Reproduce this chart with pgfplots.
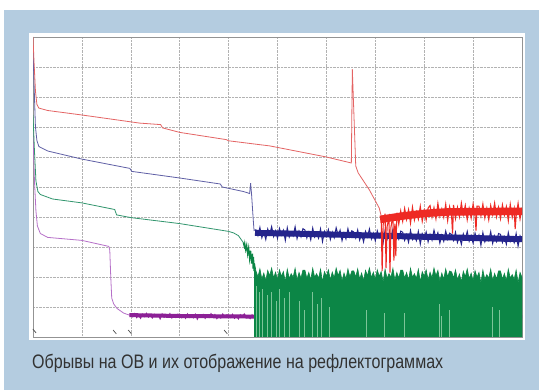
\documentclass[border=0pt]{standalone}
\usepackage{pgfplots}
\pgfplotsset{compat=1.18}
\usepackage{graphicx}
\usepackage{fontspec}
\newfontfamily\capfont{Liberation Sans}
\definecolor{bgblue}{RGB}{180,204,224}
\definecolor{capgray}{RGB}{50,50,50}
\definecolor{rednoise}{RGB}{238,42,36}
\definecolor{redthin}{RGB}{228,100,100}
\definecolor{bluenoise}{RGB}{36,36,140}
\definecolor{bluethin}{RGB}{95,95,165}
\definecolor{greennoise}{RGB}{12,134,70}
\definecolor{greenthin}{RGB}{50,150,110}
\definecolor{gapgreen}{RGB}{125,196,152}
\definecolor{purplenoise}{RGB}{140,32,150}
\definecolor{purplethin}{RGB}{182,112,200}
\begin{document}
\begin{tikzpicture}[x=1pt,y=1pt]
\useasboundingbox (0,0) rectangle (539,390);
\fill[white] (0,0) rectangle (539,390);
\fill[bgblue] (4,0) rectangle (539,380);
\fill[white] (29,50) rectangle (525,357);
\node[anchor=base west, inner sep=0pt, text=capgray] at (32,21)
  {\resizebox{411pt}{\height}{\capfont\fontsize{19.5pt}{22pt}\selectfont Обрывы на ОВ и их отображение на рефлектограммах}};
\begin{axis}[
  at={(33pt,53pt)}, anchor=south west,
  scale only axis, width=489pt, height=300pt,
  xmin=0, xmax=10, ymin=0, ymax=10,
  xtick={0,1,...,10}, ytick={0,1,...,10},
  xticklabels={}, yticklabels={},
  major tick length=0pt,
  grid=major,
  major grid style={densely dotted, draw=gray!60, line width=0.5pt},
  axis line style={draw=gray!85, line width=0.9pt},
]
% ---------------- purple trace
\addplot[purplethin, line width=0.8pt, mark=none] coordinates {
(0,6.8) (0.03,5.2) (0.06,4.2) (0.09,3.7) (0.15,3.45) (0.3,3.32) (1.0,3.22) (1.55,3.02) (1.57,2.9) (1.59,2.0) (1.61,1.3) (1.65,1.1) (1.72,0.95) (1.85,0.8) (1.95,0.74) (2.0,0.72)};
\addplot[purplenoise, line width=4pt, mark=none] coordinates {
(1.97,0.73) (3.0,0.70) (4.6,0.68) (10,0.66)};
\addplot[purplenoise, line width=0.9pt, mark=none] coordinates {
(2.00,0.75) (2.04,0.67) (2.08,0.78) (2.12,0.64) (2.16,0.72) (2.20,0.62) (2.24,0.76) (2.28,0.68) (2.32,0.79) (2.36,0.66)
(2.40,0.73) (2.44,0.63) (2.48,0.76) (2.52,0.68) (2.56,0.74) (2.60,0.60) (2.64,0.77) (2.68,0.65) (2.72,0.71) (2.76,0.66)
(2.80,0.78) (2.84,0.63) (2.88,0.73) (2.92,0.65) (2.96,0.76)
(3.00,0.75) (3.04,0.64) (3.08,0.72) (3.12,0.62) (3.16,0.77) (3.20,0.65) (3.24,0.70) (3.28,0.64) (3.32,0.76) (3.36,0.59)
(3.40,0.73) (3.44,0.67) (3.48,0.75) (3.52,0.62) (3.56,0.72) (3.60,0.65) (3.64,0.78) (3.68,0.67) (3.72,0.75) (3.76,0.61)
(3.80,0.71) (3.84,0.63) (3.88,0.77) (3.92,0.66) (3.96,0.74)
(4.00,0.73) (4.04,0.65) (4.08,0.76) (4.12,0.62) (4.16,0.70) (4.20,0.60) (4.24,0.74) (4.28,0.66) (4.32,0.77) (4.36,0.64)
(4.40,0.71) (4.44,0.61) (4.48,0.74) (4.52,0.66) (4.56,0.72) (4.60,0.58)};
% ---------------- green trace
\addplot[greenthin, line width=0.8pt, mark=none] coordinates {
(0,7.4) (0.03,6.2) (0.06,5.2) (0.1,4.85) (0.15,4.75) (0.4,4.6) (1.0,4.47) (1.67,4.25) (1.71,4.07) (2.0,3.98) (3.0,3.78) (4.0,3.52) (4.1,3.47) (4.2,3.38) (4.3,3.15)};
\addplot[greennoise, line width=1.2pt, mark=none] coordinates {
(4.30,3.15) (4.32,3.02) (4.33,3.12) (4.35,2.90) (4.37,3.06) (4.39,2.76) (4.41,2.97) (4.43,2.60) (4.45,2.88) (4.47,2.45) (4.49,2.78) (4.50,2.28) (4.51,2.66) (4.52,2.20) (4.53,2.45)};
\addplot[greennoise, fill=greennoise, line width=0.6pt, mark=none] coordinates {
(4.53,2.45)
(4.56,2.20) (4.60,2.00) (4.64,2.27) (4.68,1.93) (4.72,2.13) (4.76,1.87) (4.80,2.22) (4.84,2.04) (4.88,2.30) (4.92,1.97)
(4.96,2.16) (5.00,1.91) (5.04,2.24) (5.08,2.02) (5.12,2.18) (5.16,1.84) (5.20,2.26) (5.24,1.95) (5.28,2.11) (5.32,1.99)
(5.36,2.29) (5.40,1.90) (5.44,2.15) (5.48,1.96) (5.52,2.23)
(5.56,2.23) (5.60,1.96) (5.64,2.15) (5.68,1.90) (5.72,2.29) (5.76,1.99) (5.80,2.11) (5.84,1.95) (5.88,2.26) (5.92,1.84)
(5.96,2.18) (6.00,2.02) (6.04,2.24) (6.08,1.91) (6.12,2.16) (6.16,1.97) (6.20,2.30) (6.24,2.04) (6.28,2.22) (6.32,1.87)
(6.36,2.13) (6.40,1.93) (6.44,2.27) (6.48,2.00) (6.52,2.20)
(6.56,2.20) (6.60,2.00) (6.64,2.27) (6.68,1.93) (6.72,2.13) (6.76,1.87) (6.80,2.22) (6.84,2.04) (6.88,2.30) (6.92,1.97)
(6.96,2.16) (7.00,1.91) (7.04,2.24) (7.08,2.02) (7.12,2.18) (7.16,1.84) (7.20,2.26) (7.24,1.95) (7.28,2.11) (7.32,1.99)
(7.36,2.29) (7.40,1.90) (7.44,2.15) (7.48,1.96) (7.52,2.23)
(7.56,2.23) (7.60,1.96) (7.64,2.15) (7.68,1.90) (7.72,2.29) (7.76,1.99) (7.80,2.11) (7.84,1.95) (7.88,2.26) (7.92,1.84)
(7.96,2.18) (8.00,2.02) (8.04,2.24) (8.08,1.91) (8.12,2.16) (8.16,1.97) (8.20,2.30) (8.24,2.04) (8.28,2.22) (8.32,1.87)
(8.36,2.13) (8.40,1.93) (8.44,2.27) (8.48,2.00) (8.52,2.20)
(8.56,2.17) (8.60,1.97) (8.64,2.24) (8.68,1.90) (8.72,2.10) (8.76,1.84) (8.80,2.19) (8.84,2.01) (8.88,2.27) (8.92,1.94)
(8.96,2.13) (9.00,1.88) (9.04,2.21) (9.08,1.99) (9.12,2.15) (9.16,1.81) (9.20,2.23) (9.24,1.92) (9.28,2.08) (9.32,1.96)
(9.36,2.26) (9.40,1.87) (9.44,2.12) (9.48,1.93) (9.52,2.20)
(9.56,2.20) (9.60,1.93) (9.64,2.12) (9.68,1.87) (9.72,2.26) (9.76,1.96) (9.80,2.08) (9.84,1.92) (9.88,2.23) (9.92,1.81)
(9.96,2.15) (10.00,1.99)} \closedcycle;
\addplot[ycomb, gapgreen, line width=0.8pt, mark=none] coordinates {
(4.57,1.7) (4.63,1.5) (4.69,1.6) (4.80,1.4) (4.88,1.5) (4.98,1.2) (5.04,1.6) (5.14,1.3) (5.24,1.5) (5.45,1.2) (5.55,0.9) (5.71,1.5)
(5.82,1.1) (5.90,1.3) (6.06,1.0) (6.82,0.9) (7.18,0.8) (7.59,0.8) (8.31,1.1) (8.35,0.7) (8.51,0.9) (9.39,1.0) (9.53,0.9)};
% ---------------- blue trace
\addplot[bluethin, line width=0.8pt, mark=none] coordinates {
(0,9.6) (0.02,8.5) (0.05,7.0) (0.08,6.55) (0.12,6.35) (0.3,6.2) (1,5.93) (1.98,5.62) (2.02,5.52) (3.0,5.3) (3.83,5.1) (3.87,5.0) (4.3,4.85) (4.4,4.8) (4.43,4.78) (4.45,5.13) (4.47,4.75) (4.5,4.0) (4.52,3.55) (4.56,3.58)};
\addplot[bluenoise, line width=6pt, mark=none] coordinates {
(4.54,3.47) (5.5,3.44) (6.5,3.40) (7.5,3.36) (8.5,3.32) (9.5,3.28) (10,3.26)};
\addplot[bluenoise, line width=1.0pt, mark=none] coordinates {
(4.56,3.58) (4.60,3.38) (4.64,3.65) (4.68,3.31) (4.72,3.51) (4.76,3.25) (4.80,3.60) (4.84,3.42) (4.88,3.68) (4.92,3.35)
(4.96,3.54) (5.00,3.29) (5.04,3.62) (5.08,3.40) (5.12,3.56) (5.16,3.22) (5.20,3.64) (5.24,3.33) (5.28,3.49) (5.32,3.37)
(5.36,3.67) (5.40,3.28) (5.44,3.53) (5.48,3.34) (5.52,3.61)
(5.56,3.57) (5.60,3.30) (5.64,3.49) (5.68,3.24) (5.72,3.63) (5.76,3.33) (5.80,3.45) (5.84,3.29) (5.88,3.60) (5.92,3.18)
(5.96,3.52) (6.00,3.36) (6.04,3.58) (6.08,3.25) (6.12,3.50) (6.16,3.31) (6.20,3.64) (6.24,3.38) (6.28,3.56) (6.32,3.21)
(6.36,3.47) (6.40,3.27) (6.44,3.61) (6.48,3.34) (6.52,3.54)
(6.56,3.50) (6.60,3.30) (6.64,3.57) (6.68,3.23) (6.72,3.43) (6.76,3.17) (6.80,3.52) (6.84,3.34) (6.88,3.60) (6.92,3.27)
(6.96,3.46) (7.00,3.21) (7.04,3.54) (7.08,3.32) (7.12,3.48) (7.16,3.14) (7.20,3.56) (7.24,3.25) (7.28,3.41) (7.32,3.29)
(7.36,3.59) (7.40,3.20) (7.44,3.45) (7.48,3.26) (7.52,3.53)
(7.56,3.49) (7.60,3.22) (7.64,3.41) (7.68,3.16) (7.72,3.55) (7.76,3.25) (7.80,3.37) (7.84,3.21) (7.88,3.52) (7.92,3.10)
(7.96,3.44) (8.00,3.28) (8.04,3.50) (8.08,3.17) (8.12,3.42) (8.16,3.23) (8.20,3.56) (8.24,3.30) (8.28,3.48) (8.32,3.13)
(8.36,3.39) (8.40,3.19) (8.44,3.53) (8.48,3.26) (8.52,3.46)
(8.56,3.42) (8.60,3.22) (8.64,3.49) (8.68,3.15) (8.72,3.35) (8.76,3.09) (8.80,3.44) (8.84,3.26) (8.88,3.52) (8.92,3.19)
(8.96,3.38) (9.00,3.13) (9.04,3.46) (9.08,3.24) (9.12,3.40) (9.16,3.06) (9.20,3.48) (9.24,3.17) (9.28,3.33) (9.32,3.21)
(9.36,3.51) (9.40,3.12) (9.44,3.37) (9.48,3.18) (9.52,3.45)
(9.56,3.42) (9.60,3.15) (9.64,3.34) (9.68,3.09) (9.72,3.48) (9.76,3.18) (9.80,3.30) (9.84,3.14) (9.88,3.45) (9.92,3.03)
(9.96,3.37) (10.00,3.21)};
% ---------------- red trace
\addplot[redthin, line width=0.8pt, mark=none] coordinates {
(0,10) (0.02,9.2) (0.05,8.2) (0.08,7.75) (0.12,7.63) (0.3,7.55) (1,7.4) (2.18,7.13) (2.61,7.08) (2.65,6.97) (3.0,6.82) (3.95,6.58) (4.0,6.54) (4.84,6.37) (6.0,6.0) (6.51,5.8) (6.53,8.93) (6.6,5.7) (6.65,5.47) (6.88,4.9) (7.08,4.3) (7.12,4.04)};
\addplot[rednoise, line width=7.5pt, mark=none] coordinates {
(7.10,3.92) (7.5,4.02) (8.0,4.12) (8.5,4.17) (10,4.19)};
\addplot[rednoise, line width=1.1pt, mark=none] coordinates {
(7.12,4.04) (7.14,2.20) (7.16,3.74) (7.20,4.11) (7.22,2.30) (7.24,3.67) (7.28,3.97) (7.30,2.15) (7.32,3.66) (7.36,4.06)
(7.38,2.55) (7.40,3.78) (7.42,2.70) (7.44,4.14) (7.48,3.76) (7.52,4.20) (7.56,3.86) (7.60,4.28) (7.64,3.92) (7.68,4.24)
(7.72,3.80) (7.76,4.32) (7.80,3.90) (7.84,4.17) (7.88,3.93) (7.92,4.35) (7.96,3.86) (8.00,4.21) (8.04,3.90) (8.08,4.30)
(8.12,4.38) (8.16,4.00) (8.20,4.31) (8.24,3.94) (8.28,4.45) (8.32,4.03) (8.36,4.27) (8.40,3.99) (8.44,4.42) (8.48,3.88)
(8.52,4.34) (8.56,4.05) (8.58,3.45) (8.60,4.40) (8.64,3.95) (8.68,4.32) (8.72,4.01) (8.76,4.46) (8.80,4.08) (8.84,4.38)
(8.88,3.91) (8.92,4.29) (8.96,3.97) (9.00,4.43) (9.04,4.04) (9.06,3.55) (9.08,4.36)
(9.12,4.36) (9.16,4.04) (9.20,4.43) (9.24,3.97) (9.28,4.29) (9.32,3.91) (9.36,4.38) (9.40,4.08) (9.44,4.46) (9.48,4.01)
(9.52,4.32) (9.56,3.95) (9.60,4.40) (9.64,4.06) (9.68,4.34) (9.72,3.88) (9.76,4.42) (9.80,3.99) (9.84,4.27) (9.86,3.60)
(9.88,4.03) (9.92,4.45) (9.96,3.94) (10.00,4.31)};
% ---------------- event markers
\addplot[only marks, mark=|, mark size=2.5pt, mark options={rotate=40, draw=black!70, line width=0.7pt}] coordinates {
(0.03,0.2) (1.67,0.17) (1.98,0.17) (3.94,0.17)};
\end{axis}
\end{tikzpicture}
\end{document}
